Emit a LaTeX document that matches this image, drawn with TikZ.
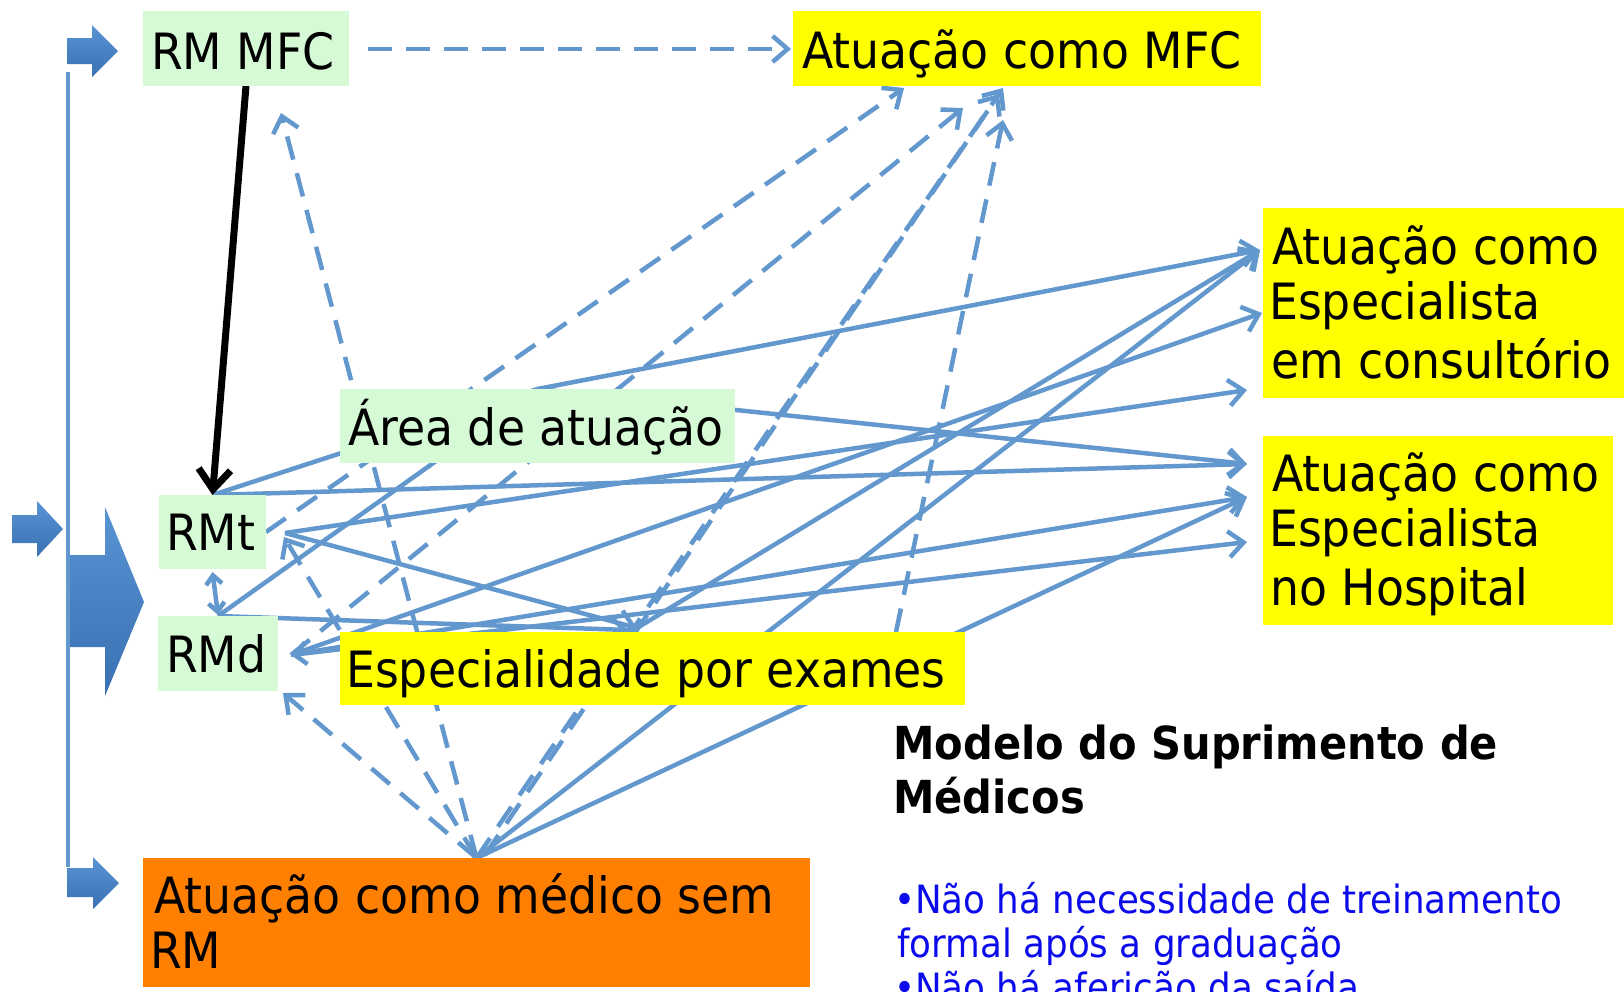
\documentclass[tikz,border=0pt]{standalone}
\usepackage{fontspec}
\setmainfont{DejaVu Sans}[FakeStretch=0.915]
\usetikzlibrary{arrows.meta}
\definecolor{lb}{RGB}{98,152,205}
\definecolor{gbox}{RGB}{214,250,214}
\definecolor{ybox}{RGB}{255,255,0}
\definecolor{obox}{RGB}{255,127,0}
\definecolor{btxt}{RGB}{10,10,235}
\definecolor{arrtop}{RGB}{88,148,212}
\definecolor{arrbot}{RGB}{58,112,178}
\pgfdeclarelayer{bg}
\pgfsetlayers{bg,main}
\begin{document}
\begin{tikzpicture}[x=1pt,y=-1pt,
  box/.style={anchor=north west, inner sep=0pt, outer sep=0pt},
  lbl/.style={anchor=base west, inner sep=0pt, font=\fontsize{50}{57}\selectfont},
  ttl/.style={anchor=base west, inner sep=0pt, font=\bfseries\fontsize{45.5}{54}\selectfont},
  blu/.style={anchor=base west, inner sep=0pt, text=btxt, font=\fontsize{39}{44}\selectfont},
  con/.style={draw=lb, line width=4.5pt},
  dcon/.style={con, dash pattern=on 24pt off 14pt},
  tip/.style={-{Straight Barb[length=15pt,width=26pt]}},
  blockarrow/.style={top color=arrtop, bottom color=arrbot, draw=none}
]
\useasboundingbox (0,0) rectangle (1624,991);

% left block arrows and vertical line
\shade[blockarrow] (67,38) -- (92,38) -- (92,25) -- (118,51) -- (92,77) -- (92,64) -- (67,64) -- cycle;
\shade[blockarrow] (12,515) -- (37,515) -- (37,501) -- (63,529) -- (37,557) -- (37,543) -- (12,543) -- cycle;
\shade[blockarrow] (67,868) -- (93,868) -- (93,857) -- (119,883) -- (93,909) -- (93,897) -- (67,897) -- cycle;
\shade[blockarrow] (68,555) -- (105,555) -- (105,507) -- (144,602) -- (105,696) -- (105,647) -- (68,647) -- cycle;
\draw[lb, line width=4.5pt] (68,72) -- (68,867);

% boxes
\node[box, fill=gbox, minimum width=206pt, minimum height=75pt] (rmmfc) at (143,11) {};
\node[box, fill=ybox, minimum width=468pt, minimum height=75pt] (mfc) at (793,11) {};
\node[box, fill=gbox, minimum width=395pt, minimum height=74pt] (area) at (340,389) {};
\node[box, fill=gbox, minimum width=107pt, minimum height=74pt] (rmt) at (159,495) {};
\node[box, fill=gbox, minimum width=120pt, minimum height=75pt] (rmd) at (158,616) {};
\node[box, fill=ybox, minimum width=625pt, minimum height=73pt] (esp) at (340,632) {};
\node[box, fill=ybox, minimum width=361pt, minimum height=190pt] (cons) at (1263,208) {};
\node[box, fill=ybox, minimum width=350pt, minimum height=189pt] (hosp) at (1263,436) {};
\node[box, fill=obox, minimum width=667pt, minimum height=129pt] (sem) at (143,858) {};

% texts
\node[lbl] (rmmfc-t) at (151,69) {RM MFC};
\node[lbl] (mfc-t) at (802,68) {Atuação como MFC};
\node[lbl] (area-t) at (348,445) {Área de atuação};
\node[lbl] (rmt-t) at (166,550) {RMt};
\node[lbl] (rmd-t) at (166,672) {RMd};
\node[lbl] (esp-t) at (346,687) {Especialidade por exames};
\node[lbl] (cons-t1) at (1272,264) {Atuação como};
\node[lbl] (cons-t2) at (1269,319) {Especialista};
\node[lbl] (cons-t3) at (1271,378) {em consultório};
\node[lbl] (hosp-t1) at (1272,491) {Atuação como};
\node[lbl] (hosp-t2) at (1269,546) {Especialista};
\node[lbl] (hosp-t3) at (1270,605) {no Hospital};
\node[lbl] (sem-t1) at (154,913) {Atuação como médico sem};
\node[lbl] (sem-t2) at (150,968) {RM};
\node[ttl] (ttl1) at (893,759) {Modelo do Suprimento de};
\node[ttl] (ttl2) at (893,813) {Médicos};
\node[blu] (b1) at (894,913) {•Não há necessidade de treinamento};
\node[blu] (b2) at (897,957) {formal após a graduação};
\node[blu] (b3) at (894,1001) {•Não há aferição da saída};

% connector end points
\coordinate (rmmfcE) at (368,49);
\coordinate (mfcW) at (791,49);
\coordinate (rmmfcB) at (281,113);
\coordinate (rmdB) at (283,693);
\coordinate (rmtB) at (284,537);
\coordinate (rmtR) at (285,533);
\coordinate (rmdR) at (291,655);
\coordinate (mfcA) at (904,88);
\coordinate (mfcB) at (963,108);
\coordinate (mfcC) at (1003,88);
\coordinate (mfcC2) at (999,94);
\coordinate (mfcD) at (1003,120);
\coordinate (semN2) at (485,855);
\coordinate (espD) at (896,632);
\coordinate (espT) at (637,628);
\coordinate (espT2) at (628,630);
\coordinate (consA) at (1260,250);
\coordinate (consB) at (1262,313);
\coordinate (consC) at (1247,390);
\coordinate (hospA) at (1247,464);
\coordinate (hospB) at (1247,497);
\coordinate (hospC) at (1247,542);

\begin{pgfonlayer}{bg}
% dashed connectors
\draw[dcon,tip] (rmmfcE) -- (mfcW);
\draw[dcon,tip] (sem.north) -- (rmmfcB);
\draw[dcon,tip] (sem.north) -- (rmdB);
\draw[dcon,tip] (sem.north) -- (rmtB);
\draw[dcon,tip] (rmt.east) -- (mfcA);
\draw[dcon,tip] (rmdR) -- (mfcB);
\draw[dcon,tip] (sem.north) -- (mfcC);
\draw[dcon,tip] (semN2) -- (mfcC2);
\draw[dcon,tip] (espD) -- (mfcD);
% solid connectors
\draw[con] (rmt.north) -- (area.north);
\draw[con,tip] (area.north) -- (consA);
\draw[con,tip] (area.north) -- (hospA);
\draw[con,tip] (rmt.north) -- (hospA);
\draw[con,tip] (rmtR) -- (consC);
\draw[con,tip] (rmtR) -- (espT);
\draw[con,tip] (rmd.north) -- (espT2);
\draw[con] (rmd.north) -- (area.north);
\draw[con,tip] (espT) -- (consA);
\draw[con,tip] (rmdR) -- (consB);
\draw[con,tip] (rmdR) -- (hospB);
\draw[con,{Straight Barb[length=12pt,width=22pt]}-{Straight Barb[length=15pt,width=26pt]}] (rmdR) -- (hospC);
\draw[con,tip] (sem.north) -- (consA);
\draw[con,tip] (sem.north) -- (hospB);
\draw[con,{Straight Barb[length=9pt,width=16pt]}-{Straight Barb[length=9pt,width=16pt]}] ([yshift=-3pt]rmt.south) -- ([yshift=1pt]rmd.north);
\draw[black, line width=7pt, -{Straight Barb[length=20pt,width=32pt]}] (rmmfc.south) -- (rmt.north);
\end{pgfonlayer}
\end{tikzpicture}
\end{document}
